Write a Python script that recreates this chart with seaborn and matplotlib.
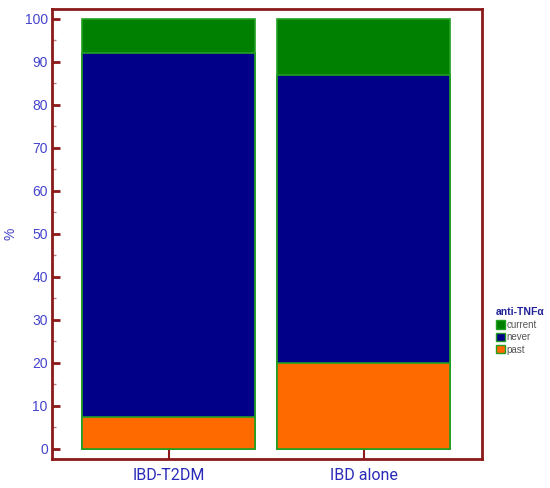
import numpy as np
import pandas as pd
import matplotlib
matplotlib.use("Agg")
import matplotlib.pyplot as plt
import seaborn as sns
from matplotlib.patches import Patch
from matplotlib.ticker import MultipleLocator

# data (percent of patients)
groups = ["IBD-T2DM", "IBD alone"]
past = [7.5, 20.0]
never = [84.5, 67.0]
current = [8.0, 13.0]

status_labels = ["current", "never", "past"]
status_colors = {"current": "#008000", "never": "#000088", "past": "#ff6a00"}
edge_green = "#22a022"
frame_red = "#8b1a1a"
tick_blue = "#4444cc"

sns.set_style("white")
plt.rcParams["font.family"] = ["Liberation Sans", "DejaVu Sans"]

df = pd.DataFrame({"group": groups, "past": past, "never": never, "current": current})
df["never_top"] = df["past"] + df["never"]
df["current_top"] = df["never_top"] + df["current"]

fig = plt.figure(figsize=(5.5, 4.88), dpi=100)
ax = fig.add_axes([0.0945, 0.0594, 0.7815, 0.9222])

# stacked bars drawn as layered cumulative bars
for col, name in [("current_top", "current"), ("never_top", "never"), ("past", "past")]:
    sns.barplot(data=df, x="group", y=col, color=status_colors[name], width=0.887,
                edgecolor=edge_green, linewidth=1.2, saturation=1, ax=ax)

ax.set_xlim(-0.6, 1.605)
ax.set_ylim(-2.33, 102.33)
ax.yaxis.set_major_locator(MultipleLocator(10))
ax.yaxis.set_minor_locator(MultipleLocator(5))

for s in ax.spines.values():
    s.set_visible(True)
    s.set_color(frame_red)
    s.set_linewidth(2)

ax.tick_params(axis="y", which="major", direction="in", length=6, width=2,
               color=frame_red, labelcolor=tick_blue, labelsize=10, left=True, pad=3)
ax.tick_params(axis="y", which="minor", direction="in", length=3, width=1,
               color="#c08080", left=True)
ax.tick_params(axis="x", which="major", direction="in", length=7, width=1.5,
               color=frame_red, labelcolor="#2a2ab8", labelsize=11.5, bottom=True, pad=6.5)
for lab in ax.get_xticklabels():
    lab.set_fontfamily(["Roboto", "DejaVu Sans"])

ax.set_xlabel("")
ax.set_ylabel("%", color=tick_blue, fontsize=10)
ax.yaxis.set_label_coords(-0.08, 0.5)

handles = [Patch(facecolor=status_colors[k], edgecolor=edge_green, linewidth=1, label=k)
           for k in status_labels]
leg = fig.legend(handles=handles, title="anti-TNFα", loc="upper left",
                 bbox_to_anchor=(0.895, 0.378), frameon=False, fontsize=7,
                 title_fontsize=7.5, handlelength=0.9, handleheight=0.9,
                 handletextpad=0.2, labelspacing=0.25, borderaxespad=0)
leg.get_title().set_fontweight("bold")
leg.get_title().set_color("#222299")
leg._legend_box.align = "left"
for t in leg.get_texts():
    t.set_color("#555555")

fig.savefig("out.png", dpi=100)
